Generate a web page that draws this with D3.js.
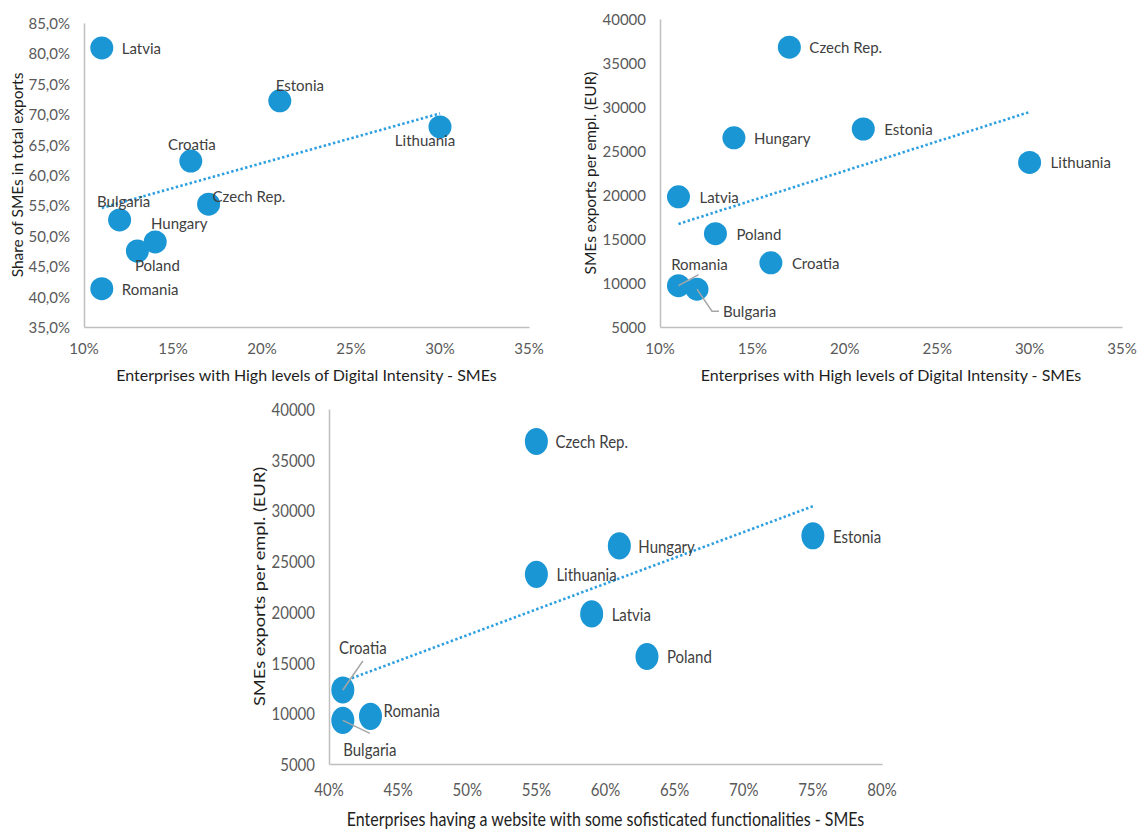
<!DOCTYPE html>
<html>
<head>
<meta charset="utf-8">
<script src="https://cdn.jsdelivr.net/npm/d3@7"></script>
<style>
  html, body { margin: 0; padding: 0; background: #ffffff; }
  svg { display: block; font-family: Lato, "Open Sans", sans-serif; }
</style>
</head>
<body>
<svg id="chart" width="1143" height="830"></svg>
<script>
// ---- data -----------------------------------------------------------------
const countries = ["Czech Rep.", "Estonia", "Hungary", "Lithuania", "Latvia", "Poland", "Croatia", "Romania", "Bulgaria"];
// Enterprises with high levels of digital intensity, SMEs (%)
const highDigitalIntensity = [17, 21, 14, 30, 11, 13, 16, 11, 12];
// Share of SMEs in total exports (%)
const smeShareOfExports = [55.2, 72.2, 49.0, 67.9, 80.9, 47.5, 62.3, 41.3, 52.6];
// SMEs exports per employee (EUR)
const exportsPerEmployee = [36800, 27500, 26500, 23700, 19800, 15600, 12300, 9700, 9300];
// Enterprises having a website with some sophisticated functionalities, SMEs (%)
const websiteFunctionalities = [55, 75, 61, 55, 59, 63, 41, 43, 41];

const digitalTicks = [10, 15, 20, 25, 30, 35];
const websiteTicks = [40, 45, 50, 55, 60, 65, 70, 75, 80];
const shareTicks = [35, 40, 45, 50, 55, 60, 65, 70, 75, 80, 85];
const exportTicks = [5000, 10000, 15000, 20000, 25000, 30000, 35000, 40000];

// ---- label placement: [dx, dy, anchor, leader points] ----------------------
const labelsShare = {
  "Latvia":     [20, 0, "start"],
  "Estonia":    [20, -16, "middle"],
  "Lithuania":  [-15, 13, "middle"],
  "Croatia":    [1, -17, "middle"],
  "Czech Rep.": [4, -8, "start"],
  "Bulgaria":   [4, -19, "middle"],
  "Hungary":    [24, -19, "middle"],
  "Poland":     [20, 14, "middle"],
  "Romania":    [20, 0, "start"]
};
const labelsExportsDigital = {
  "Czech Rep.": [20, 0, "start"],
  "Estonia":    [21, 0, "start"],
  "Hungary":    [20, 0, "start"],
  "Lithuania":  [21, 0, "start"],
  "Latvia":     [21, 0, "start"],
  "Poland":     [21, 0, "start"],
  "Croatia":    [21, 0, "start"],
  "Romania":    [21, -22, "middle", [[0, 0], [20, -11]]],
  "Bulgaria":   [26, 22, "start", [[0, 0], [15, 22], [22, 22]]]
};
const labelsExportsWebsite = {
  "Czech Rep.": [19, 0, "start"],
  "Estonia":    [20, 0, "start"],
  "Hungary":    [19, 0, "start"],
  "Lithuania":  [20, 0, "start"],
  "Latvia":     [20, 0, "start"],
  "Poland":     [20, 0, "start"],
  "Croatia":    [20, -43, "middle", [[0, 0], [20, -29]]],
  "Romania":    [13, -6, "start"],
  "Bulgaria":   [27, 29, "middle", [[0, 0], [27, 13]]]
};

// ---- panels ---------------------------------------------------------------
const panels = [
  {
    x: highDigitalIntensity, y: smeShareOfExports,
    xTicks: digitalTicks, yTicks: shareTicks,
    xFmt: d => d + "%", yFmt: d => d.toFixed(1).replace(".", ",") + "%",
    box: { l: 84, r: 529, t: 23, b: 327 },
    xTitle: "Enterprises with High levels of Digital Intensity - SMEs",
    yTitle: "Share of SMEs in total exports", yTitleX: 17,
    stretch: 1, labels: labelsShare
  },
  {
    x: highDigitalIntensity, y: exportsPerEmployee,
    xTicks: digitalTicks, yTicks: exportTicks,
    xFmt: d => d + "%", yFmt: d => String(d),
    box: { l: 660, r: 1122, t: 19, b: 327 },
    xTitle: "Enterprises with High levels of Digital Intensity - SMEs",
    yTitle: "SMEs exports per empl. (EUR)", yTitleX: 590,
    stretch: 1, labels: labelsExportsDigital
  },
  {
    x: websiteFunctionalities, y: exportsPerEmployee,
    xTicks: websiteTicks, yTicks: exportTicks,
    xFmt: d => d + "%", yFmt: d => String(d),
    box: { l: 329, r: 882, t: 409, b: 764 },
    xTitle: "Enterprises having a website with some sofisticated functionalities - SMEs",
    yTitle: "SMEs exports per empl. (EUR)", yTitleX: 259,
    stretch: 1.18, labels: labelsExportsWebsite
  }
];

const BUBBLE = "#1a96d4";
const TREND = "#2c9fe0";
const AXIS = "#bfbfbf";
const TICK_TEXT = "#595959";
const LABEL_TEXT = "#404040";
const TITLE_TEXT = "#1e1e1e";

const svg = d3.select("#chart");

// text helper: vertically stretched text for the taller panel
function addText(g, x, y, str, opts) {
  const s = opts.stretch || 1;
  const rot = opts.rotate || 0;
  let tr = `translate(${x},${y})`;
  if (rot) tr += ` rotate(${rot})`;
  if (s !== 1) tr += rot ? ` scale(${s},1)` : ` scale(1,${s})`;
  return g.append("text")
    .attr("transform", tr)
    .attr("text-anchor", opts.anchor || "middle")
    .attr("dominant-baseline", "central")
    .attr("font-size", opts.size)
    .attr("fill", opts.fill)
    .text(str);
}

panels.forEach(p => {
  const g = svg.append("g");
  const b = p.box;
  const xs = d3.scaleLinear().domain(d3.extent(p.xTicks)).range([b.l, b.r]);
  const ys = d3.scaleLinear().domain(d3.extent(p.yTicks)).range([b.b, b.t]);

  // axis lines (left + bottom); tick texts are drawn separately below
  const xAxis = d3.axisBottom(xs).tickValues(p.xTicks).tickFormat(p.xFmt).tickSize(0).tickPadding(0);
  const yAxis = d3.axisLeft(ys).tickValues(p.yTicks).tickFormat(p.yFmt).tickSize(0).tickPadding(0);

  const gx = g.append("g").attr("transform", `translate(0,${b.b})`).call(xAxis);
  const gy = g.append("g").attr("transform", `translate(${b.l},0)`).call(yAxis);
  [gx, gy].forEach(a => {
    a.select(".domain").attr("stroke", AXIS).attr("stroke-width", 1.5);
    a.selectAll("text").remove();
  });

  // tick labels
  p.xTicks.forEach(t => addText(g, xs(t), b.b + 21 * p.stretch, p.xFmt(t),
    { size: 15, fill: TICK_TEXT, stretch: p.stretch }));
  p.yTicks.forEach(t => addText(g, b.l - 14, ys(t), p.yFmt(t),
    { size: 15, fill: TICK_TEXT, stretch: p.stretch, anchor: "end" }));

  // axis titles
  addText(g, (b.l + b.r) / 2, b.b + 47 * p.stretch, p.xTitle,
    { size: 16, fill: TITLE_TEXT, stretch: p.stretch });
  addText(g, p.yTitleX, (b.t + b.b) / 2, p.yTitle,
    { size: 15.5, fill: TITLE_TEXT, stretch: p.stretch, rotate: -90 });

  // linear trendline (least squares over the plotted points)
  const n = p.x.length;
  const mx = d3.mean(p.x), my = d3.mean(p.y);
  let sxy = 0, sxx = 0;
  for (let i = 0; i < n; i++) { sxy += (p.x[i] - mx) * (p.y[i] - my); sxx += (p.x[i] - mx) ** 2; }
  const slope = sxy / sxx, icpt = my - slope * mx;
  const [x0, x1] = d3.extent(p.x);
  g.append("line")
    .attr("x1", xs(x0)).attr("y1", ys(icpt + slope * x0))
    .attr("x2", xs(x1)).attr("y2", ys(icpt + slope * x1))
    .attr("stroke", TREND).attr("stroke-width", 2.6)
    .attr("stroke-dasharray", "2.4 2.4");

  // bubbles
  const pts = countries.map((c, i) => ({ c, cx: xs(p.x[i]), cy: ys(p.y[i]) }));
  g.selectAll("ellipse.pt").data(pts).join("ellipse")
    .attr("class", "pt")
    .attr("cx", d => d.cx).attr("cy", d => d.cy)
    .attr("rx", 11.5).attr("ry", 11.5 * p.stretch)
    .attr("fill", BUBBLE);

  // leader lines and data labels
  pts.forEach(d => {
    const L = p.labels[d.c];
    if (L[3]) {
      g.append("polyline")
        .attr("points", L[3].map(q => [d.cx + q[0], d.cy + q[1]].join(",")).join(" "))
        .attr("fill", "none").attr("stroke", "#a6a6a6").attr("stroke-width", 1.5);
    }
    addText(g, d.cx + L[0], d.cy + L[1], d.c,
      { size: 15, fill: LABEL_TEXT, stretch: p.stretch, anchor: L[2] });
  });
});
</script>
</body>
</html>
